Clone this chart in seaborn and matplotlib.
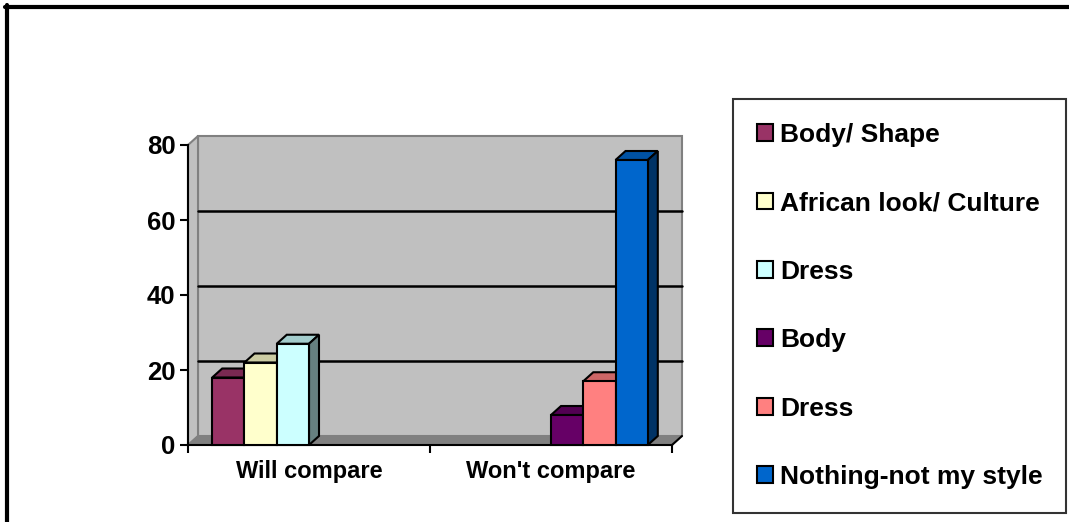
import numpy as np
import pandas as pd
import seaborn as sns
import matplotlib.pyplot as plt
from matplotlib.patches import Polygon, Patch
from matplotlib.lines import Line2D
from matplotlib.colors import to_rgb

# data
groups = ["Will compare", "Won't compare"]
series_ids = ["s1", "s2", "s3", "s4", "s5", "s6"]
series_labels = ["Body/ Shape", "African look/ Culture", "Dress", "Body", "Dress", "Nothing-not my style"]
series_colors = ["#993366", "#ffffcc", "#ccffff", "#660066", "#ff8080", "#0066cc"]
bar_group = ["Will compare", "Will compare", "Will compare", "Won't compare", "Won't compare", "Won't compare"]
bar_series = ["s1", "s2", "s3", "s4", "s5", "s6"]
bar_values = [18, 22, 27, 8, 17, 76]
y_ticks = [0, 20, 40, 60, 80]

df = pd.DataFrame({"group": bar_group, "series": bar_series, "value": bar_values})
palette = dict(zip(series_ids, series_colors))

sns.set_style("white")
plt.rcParams['font.family'] = ['Liberation Sans', 'DejaVu Sans']
plt.rcParams['font.weight'] = 'bold'
plt.rcParams['text.color'] = 'black'
plt.rcParams['xtick.color'] = 'black'
plt.rcParams['ytick.color'] = 'black'
plt.rcParams['axes.labelcolor'] = 'black'

fig = plt.figure(figsize=(10.69, 5.22), dpi=100)
W, H = 1069, 522
ax = fig.add_axes([188 / W, 77 / H, 484 / W, 300 / H])

sns.barplot(data=df, x="group", y="value", hue="series", order=groups,
            hue_order=series_ids, palette=palette, width=0.8, saturation=1,
            edgecolor="black", linewidth=1.5, legend=False, ax=ax)
bars = sorted(list(ax.patches), key=lambda b: b.get_x())

ax.set_xlim(-0.5, 1.5)
ax.set_ylim(0, 80)
ax.patch.set_visible(False)
ax.set_xlabel("")
ax.set_ylabel("")

# 3d depth in data units (pixels -> data)
ux = 484 / 2
uy = 300 / 80
dx = 10 / ux
dy = 9 / uy

# back wall, side wall, floor
wall = Polygon([(-0.5 + dx, dy), (1.5 + dx, dy), (1.5 + dx, 80 + dy), (-0.5 + dx, 80 + dy)],
               fc="#c0c0c0", ec="#808080", lw=1.5, zorder=0.5, clip_on=False)
side_wall = Polygon([(-0.5, 0), (-0.5 + dx, dy), (-0.5 + dx, 80 + dy), (-0.5, 80)],
                    fc="#c0c0c0", ec="#808080", lw=1.5, zorder=0.6, clip_on=False)
floor = Polygon([(-0.5, 0), (1.5, 0), (1.5 + dx, dy), (-0.5 + dx, dy)],
                fc="#808080", ec="#808080", lw=1, zorder=0.7, clip_on=False)
for p in (wall, side_wall, floor):
    ax.add_patch(p)
for v in y_ticks[1:-1]:
    ax.plot([-0.5 + dx, 1.5 + dx], [v + dy, v + dy], color="black", lw=1.8, zorder=1, clip_on=False)
ax.plot([1.5, 1.5 + dx], [0, dy], color="black", lw=1.5, zorder=2.6, clip_on=False)

# top and side faces of the columns
for i, bar in enumerate(bars):
    x0, w, h = bar.get_x(), bar.get_width(), bar.get_height()
    c = np.array(to_rgb(bar.get_facecolor()))
    z = 3 + i
    bar.set_zorder(z + 0.2)
    bar.set_clip_on(False)
    top = Polygon([(x0, h), (x0 + w, h), (x0 + w + dx, h + dy), (x0 + dx, h + dy)],
                  fc=c * 0.8, ec="black", lw=1.5, zorder=z, clip_on=False)
    side = Polygon([(x0 + w, 0), (x0 + w + dx, dy), (x0 + w + dx, h + dy), (x0 + w, h)],
                   fc=c * 0.5, ec="black", lw=1.5, zorder=z + 0.1, clip_on=False)
    ax.add_patch(top)
    ax.add_patch(side)

# axes
for s in ("top", "right"):
    ax.spines[s].set_visible(False)
for s in ("left", "bottom"):
    ax.spines[s].set_color("black")
    ax.spines[s].set_linewidth(1.5)
ax.set_yticks(y_ticks)
ax.tick_params(axis="y", left=True, length=6, width=1.5, color="black",
               labelsize=18.5, pad=3, direction="out", labelcolor="black")
ax.set_xticks([0, 1])
ax.set_xticklabels(groups)
ax.set_xticks([-0.5, 0.5, 1.5], minor=True)
ax.tick_params(axis="x", which="major", length=0, pad=11, labelsize=17, labelcolor="black")
ax.tick_params(axis="x", which="minor", bottom=True, length=6, width=1.5, color="black")

# legend
handles = [Patch(facecolor=c, edgecolor="black", linewidth=1.5) for c in series_colors]
leg = fig.legend(handles, series_labels, loc="upper left",
                 bbox_to_anchor=(733 / W, 1 - 99 / H), borderaxespad=0,
                 frameon=True, fancybox=False, edgecolor="black",
                 prop={"weight": "bold", "size": 19},
                 handlelength=0.6, handleheight=0.6, handletextpad=0.28,
                 labelspacing=1.685, borderpad=0.9)
leg.get_frame().set_linewidth(1.5)
for t in leg.get_texts():
    t.set_color("black")

# outer chart border (top and left only visible)
fig.add_artist(Line2D([5 / W, 1], [1 - 7 / H, 1 - 7 / H], transform=fig.transFigure, color="black", lw=3))
fig.add_artist(Line2D([7 / W, 7 / W], [0, 1 - 5 / H], transform=fig.transFigure, color="black", lw=3))

fig.savefig("out.png", dpi=100)
